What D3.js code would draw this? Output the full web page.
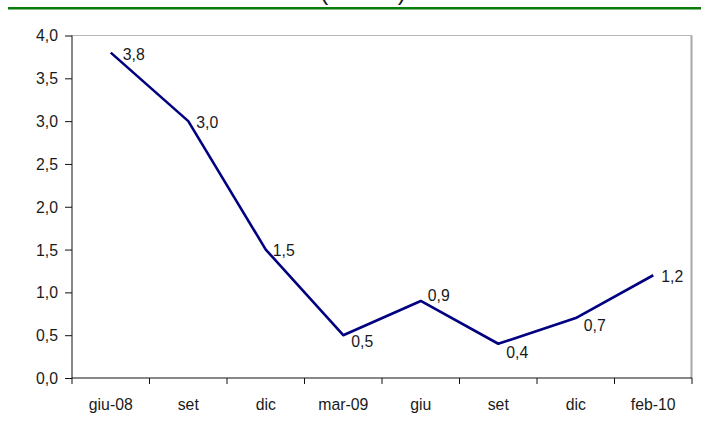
<!DOCTYPE html>
<html>
<head>
<meta charset="utf-8">
<script src="https://cdn.jsdelivr.net/npm/d3@7"></script>
<style>
  html, body { margin: 0; padding: 0; background: #fff; }
  svg { display: block; }
  text { font-family: "Liberation Sans", Arial, sans-serif; fill: #1a1a1a; }
</style>
</head>
<body>
<svg id="chart" width="701" height="434"></svg>
<script>
// Periods on the horizontal axis
const periods = ["giu-08", "set", "dic", "mar-09", "giu", "set ", "dic ", "feb-10"];
// Percentage change for each period
const values = [3.8, 3.0, 1.5, 0.5, 0.9, 0.4, 0.7, 1.2];
// Vertical axis ticks
const yTicks = [0, 0.5, 1, 1.5, 2, 2.5, 3, 3.5, 4];
// Nudges for the value labels (pixels from the point)
const labelDx = [12, 8, 7, 8, 7, 8, 8, 8];
const labelDy = [1, 1, 0, 6, -6, 8, 7, 1];

const W = 701, H = 434;
const plot = { left: 72, right: 692, top: 35.5, bottom: 378 };
const FONT = "17px";
const SQUEEZE = 0.93;   // slightly condensed lettering
const svg = d3.select("#chart");

const fmt = v => d3.format(".1f")(v).replace(".", ",");

// Condense text horizontally around its anchor point
function squeeze(sel) {
  sel.each(function () {
    const t = d3.select(this);
    const tx = +t.attr("x") || 0, ty = +t.attr("y") || 0;
    t.attr("x", 0).attr("y", 0)
     .attr("transform", `translate(${tx},${ty}) scale(${SQUEEZE},1)`);
  });
}

const x = d3.scaleBand().domain(periods).range([plot.left, plot.right]).padding(0);
const y = d3.scaleLinear().domain([0, 4]).range([plot.bottom, plot.top]);

// Title strip with green rule
svg.append("text")
  .attr("x", 363).attr("y", 0)
  .attr("text-anchor", "middle")
  .style("font-size", "25px")
  .text("(var. %)");
svg.append("rect")
  .attr("x", 8).attr("y", 7)
  .attr("width", W - 8).attr("height", 2.5)
  .attr("fill", "#0a7d0a");

// Plot frame: light top and right edges
svg.append("line")
  .attr("x1", plot.left).attr("x2", plot.right)
  .attr("y1", plot.top).attr("y2", plot.top)
  .attr("stroke", "#b8b8b8").attr("stroke-width", 1.2);
svg.append("line")
  .attr("x1", plot.right - 0.5).attr("x2", plot.right - 0.5)
  .attr("y1", plot.top).attr("y2", plot.bottom)
  .attr("stroke", "#a8a8a8").attr("stroke-width", 2);

// Y axis
const yAxis = d3.axisLeft(y).tickValues(yTicks).tickFormat(fmt).tickSize(7).tickPadding(7);
const gy = svg.append("g").attr("transform", `translate(${plot.left},0)`).call(yAxis);
gy.select(".domain").attr("stroke", "#111").attr("d", `M0,${plot.top}V${plot.bottom}`);
gy.selectAll(".tick line").attr("stroke", "#111");
gy.selectAll(".tick text").style("font-size", FONT).style("font-family", null).attr("fill", "#1a1a1a")
  .call(squeeze);

// X axis with ticks on category boundaries
const gx = svg.append("g").attr("transform", `translate(0,${plot.bottom})`);
gx.append("line")
  .attr("x1", plot.left).attr("x2", plot.right)
  .attr("stroke", "#111");
const bounds = periods.map(p => x(p)).concat([x(periods[periods.length - 1]) + x.bandwidth()]);
gx.selectAll("line.tk").data(bounds).join("line")
  .attr("class", "tk")
  .attr("x1", d => d).attr("x2", d => d)
  .attr("y1", 0).attr("y2", 6)
  .attr("stroke", "#111");
gx.selectAll("text").data(periods).join("text")
  .attr("x", d => x(d) + x.bandwidth() / 2)
  .attr("y", 32)
  .attr("text-anchor", "middle")
  .style("font-size", FONT)
  .text(d => d.trim())
  .call(squeeze);

// Series line
const line = d3.line()
  .x((d, i) => x(periods[i]) + x.bandwidth() / 2)
  .y(d => y(d));
svg.append("path")
  .datum(values)
  .attr("d", line)
  .attr("fill", "none")
  .attr("stroke", "#000080")
  .attr("stroke-width", 2.6)
  .attr("stroke-linejoin", "round");

// Value labels
svg.selectAll("text.val").data(values).join("text")
  .attr("class", "val")
  .attr("x", (d, i) => x(periods[i]) + x.bandwidth() / 2 + labelDx[i])
  .attr("y", (d, i) => y(d) + labelDy[i])
  .attr("dy", "0.36em")
  .style("font-size", FONT)
  .text(d => fmt(d))
  .call(squeeze);
</script>
</body>
</html>
